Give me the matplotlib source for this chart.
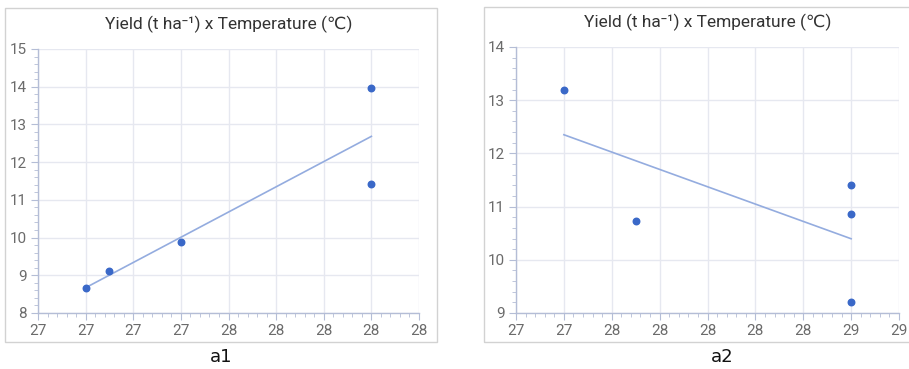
import numpy as np
import matplotlib
matplotlib.use("Agg")
import matplotlib.pyplot as plt
from matplotlib.patches import Rectangle
from matplotlib.ticker import AutoMinorLocator

plt.rcParams["font.family"] = ["Roboto", "DejaVu Sans"]

# site a1
a1_temp = [27.0, 27.1, 27.4, 28.2, 28.2]
a1_yield = [8.65, 9.12, 9.88, 13.97, 11.43]
a1_xticks = [26.8, 27.0, 27.2, 27.4, 27.6, 27.8, 28.0, 28.2, 28.4]
a1_xlabels = ["27", "27", "27", "27", "28", "28", "28", "28", "28"]
a1_yticks = [8, 9, 10, 11, 12, 13, 14, 15]

# site a2
a2_temp = [27.25, 27.625, 28.75, 28.75, 28.75]
a2_yield = [13.2, 10.73, 11.41, 10.86, 9.2]
a2_xticks = [27.0, 27.25, 27.5, 27.75, 28.0, 28.25, 28.5, 28.75, 29.0]
a2_xlabels = ["27", "27", "28", "28", "28", "28", "28", "29", "29"]
a2_yticks = [9, 10, 11, 12, 13, 14]

TITLE = "Yield (t ha\u207b\u00b9) x Temperature (\u2103)"
POINT = "#3a68c8"
TREND = "#94acdf"
GRID = "#e6e8f0"
AXIS = "#b4bdd6"
TEXT = "#6b6b6b"

W, H = 909, 369
fig = plt.figure(figsize=(W / 100, H / 100), dpi=100)


def px_box(x0, y0, x1, y1):
    # pixel box (top-left origin) -> figure fraction rect
    return [x0 / W, (H - y1) / H, (x1 - x0) / W, (y1 - y0) / H]


def draw_panel(rect, frame, temp, yld, xticks, xlabels, yticks, tag, tag_x):
    fig.patches.append(Rectangle((frame[0], frame[1]), frame[2], frame[3],
                                 transform=fig.transFigure, fill=False,
                                 edgecolor="#d2d2d2", linewidth=1.0))
    ax = fig.add_axes(rect)
    ax.set_xlim(xticks[0], xticks[-1])
    ax.set_ylim(yticks[0], yticks[-1])
    ax.set_xticks(xticks)
    ax.set_xticklabels(xlabels)
    ax.set_yticks(yticks)
    ax.xaxis.set_minor_locator(AutoMinorLocator(5))
    ax.yaxis.set_minor_locator(AutoMinorLocator(5))
    ax.grid(True, which="major", color=GRID, linewidth=1.0)
    ax.set_axisbelow(True)
    for side in ["top", "right"]:
        ax.spines[side].set_visible(False)
    for side in ["left", "bottom"]:
        ax.spines[side].set_color(AXIS)
        ax.spines[side].set_linewidth(1.0)
    ax.tick_params(which="major", length=5, color=AXIS, labelcolor=TEXT,
                   labelsize=11, pad=3)
    ax.tick_params(which="minor", length=3, color=AXIS)

    slope, icpt = np.polyfit(temp, yld, 1)
    xs = np.array([min(temp), max(temp)])
    ax.plot(xs, slope * xs + icpt, color=TREND, linewidth=1.2, zorder=2)
    ax.scatter(temp, yld, s=22, color=POINT, zorder=3, clip_on=False)

    ax.set_title(TITLE, fontsize=12.5, color="#333333", pad=14)
    fig.text(tag_x / W, 1 - 357 / H, tag, ha="center", va="center",
             fontsize=13, color="#111111", family="DejaVu Sans")
    return ax


draw_panel(px_box(38, 49, 419, 313), px_box(5, 8, 437, 342),
           a1_temp, a1_yield, a1_xticks, a1_xlabels, a1_yticks, "a1", 221)
draw_panel(px_box(516, 47, 899, 313), px_box(484, 7, 912, 342),
           a2_temp, a2_yield, a2_xticks, a2_xlabels, a2_yticks, "a2", 722)

fig.savefig("out.png", dpi=100)
